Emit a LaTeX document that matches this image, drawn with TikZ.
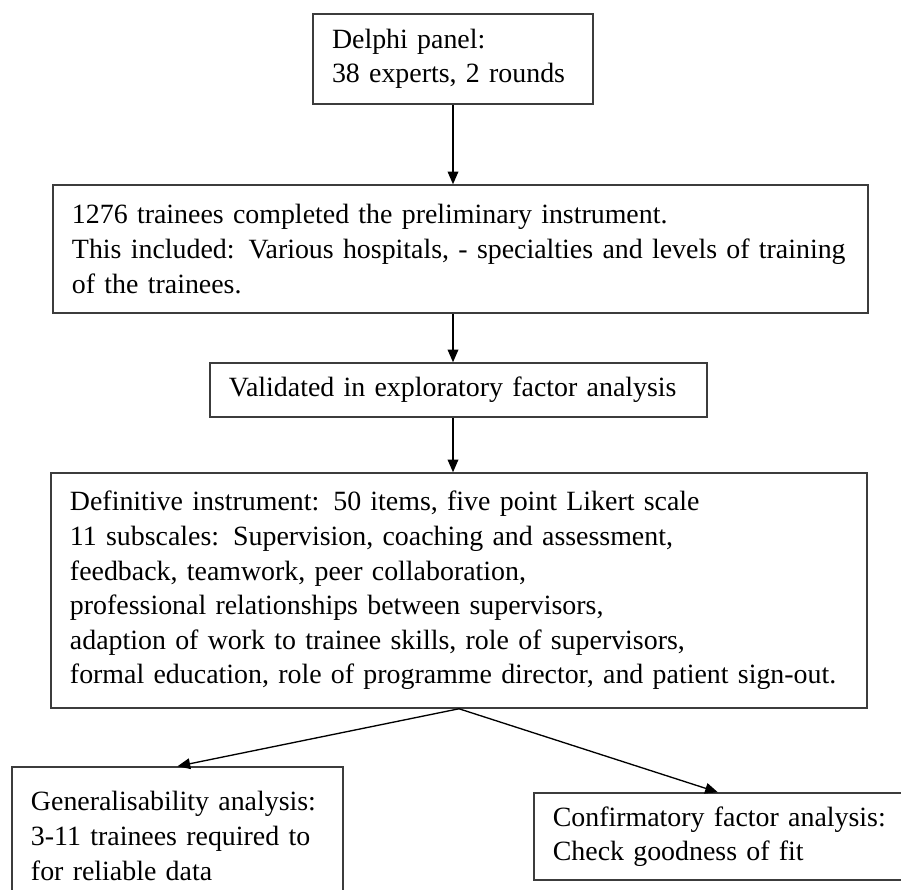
\documentclass[tikz,border=0pt]{standalone}
\usepackage{fontspec}
\setmainfont{Liberation Serif}
\usepackage{tikz}
\usetikzlibrary{arrows.meta, positioning}
\definecolor{boxline}{RGB}{60,60,60}

\begin{document}
\begin{tikzpicture}[
  x=0.03cm,y=0.03cm,
  stage/.style={
    rectangle, draw=boxline, line width=0.045cm, fill=white,
    inner xsep=0.57cm, inner ysep=0pt, align=left,
    font=\fontsize{23.8}{29.5}\selectfont
  },
  arrow/.style={-{Triangle[length=0.38cm, width=0.32cm]}, line width=0.04cm, draw=black}
]
\useasboundingbox (0,0) rectangle (901,-889);
\clip (0,0) rectangle (901,-889);

% ---- fixed positions, measured from the layout ----
\node[stage, text width=7.26cm,  minimum height=2.7cm]  (delphi)     at (453,  -59)   {Delphi panel:\\38 experts, 2 rounds};
\node[stage, text width=23.31cm, minimum height=3.84cm] (prelim)     at (460.5,-249)  {1276 trainees completed the preliminary instrument.\\This included: Various hospitals, - specialties and levels of training\\of the trainees.};
\node[stage, text width=13.77cm, minimum height=1.62cm] (efa)        at (458.5,-390)  {Validated in exploratory factor analysis};
\node[stage, text width=23.34cm, minimum height=7.05cm] (definitive) at (459,  -590.5){Definitive instrument: 50 items, five point Likert scale\\11 subscales: Supervision, coaching and assessment,\\feedback, teamwork, peer collaboration,\\professional relationships between supervisors,\\adaption of work to trainee skills, role of supervisors,\\formal education, role of programme director, and patient sign-out.\\[0.5cm]};

\node[stage, text width=8.79cm,  minimum height=4.14cm] (gen) at (177.5,-836)  {Generalisability analysis:\\3-11 trainees required to\\for reliable data\\[0.6cm]};
\node[stage, text width=10.6cm,  minimum height=2.61cm] (cfa) at (729.5,-836.5){Confirmatory factor analysis:\\Check goodness of fit};

% ---- connectors (vertical ones straight down) ----
\draw[arrow] (delphi.south) -- (delphi.south |- prelim.north);
\draw[arrow] (delphi.south |- prelim.south) -- (delphi.south |- efa.north);
\draw[arrow] (delphi.south |- efa.south) -- (delphi.south |- definitive.north);
\draw[arrow] (definitive.south) -- (gen.north);
\draw[arrow] (definitive.south) -- ([xshift=-0.35cm]cfa.north);

\end{tikzpicture}
\end{document}
